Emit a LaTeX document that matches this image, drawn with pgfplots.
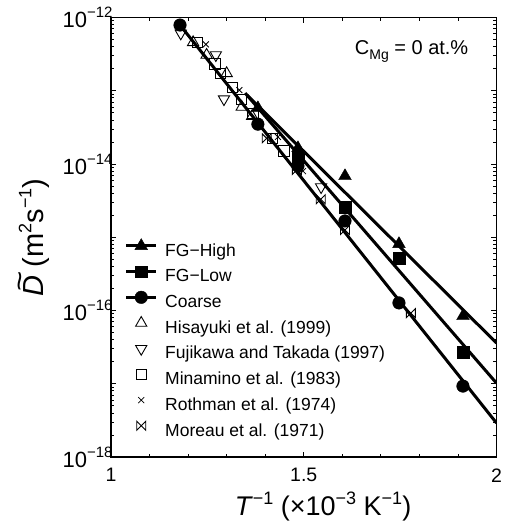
\documentclass[border=0pt]{standalone}
\usepackage{fontspec}
\setmainfont{Liberation Sans}
\usepackage{pgfplots}
\pgfplotsset{compat=1.18}
\usepackage{pgfplotstable}

\pgfdeclareplotmark{bowtie}{%
  \pgfpathmoveto{\pgfqpoint{-\pgfplotmarksize}{-\pgfplotmarksize}}%
  \pgfpathlineto{\pgfqpoint{-\pgfplotmarksize}{\pgfplotmarksize}}%
  \pgfpathlineto{\pgfqpoint{\pgfplotmarksize}{-\pgfplotmarksize}}%
  \pgfpathlineto{\pgfqpoint{\pgfplotmarksize}{\pgfplotmarksize}}%
  \pgfpathclose
  \pgfusepathqstroke
}
\newcommand\tp[1]{10\raisebox{0.45em}{\fontsize{15}{15}\selectfont −#1}}
\newcommand\spr[1]{\raisebox{0.42em}{\fontsize{18}{18}\selectfont #1}}
\newcommand\Dt{\makebox[0pt][l]{\hspace{0.16em}\raisebox{0.5em}{\scalebox{1.2}[1]{\textasciitilde}}}\textit{D}}

\pgfplotstableread{
x D
1.381 5.8e-14
1.485 1.65e-14
1.607 6.85e-15
1.747 8.1e-16
1.913 8.4e-17
}\fghigh
\pgfplotstableread{
x D
1.485 1.25e-14
1.607 2.59e-15
1.747 5.2e-16
1.913 2.7e-17
}\fglow
\pgfplotstableread{
x D
1.179 7.9e-13
1.381 3.5e-14
1.485 9.4e-15
1.607 1.67e-15
1.747 1.27e-16
1.913 9.3e-18
}\coarse
\pgfplotstableread{
x D
1.213 4.58e-13
1.248 3.08e-13
1.300 1.73e-13
1.339 6.0e-14
1.366 4.5e-14
}\hisayuki
\pgfplotstableread{
x D
1.181 6.08e-13
1.272 3.08e-13
1.293 7.7e-14
1.545 4.85e-15
}\fujikawa
\pgfplotstableread{
x D
1.224 4.58e-13
1.270 2.32e-13
1.284 1.73e-13
1.315 1.11e-13
1.339 7.55e-14
1.368 4.92e-14
1.419 2.24e-14
1.449 1.50e-14
}\minamino
\pgfplotstableread{
x D
1.246 4.3e-13
1.333 1.02e-13
1.433 2.34e-14
1.498 8.0e-15
}\rothman
\pgfplotstableread{
x D
1.404 2.24e-14
1.482 8.3e-15
1.544 3.3e-15
1.607 1.26e-15
1.778 9.2e-17
}\moreau

\begin{document}
\begin{tikzpicture}
\begin{axis}[
  scale only axis, width=385.5pt, height=439.5pt,
  ymode=log, xmin=1, xmax=2, ymin=1e-18, ymax=1e-12,
  xtick={1,1.5,2}, xticklabels={1,1.5,2},
  minor xtick={1.1,1.2,1.3,1.4,1.6,1.7,1.8,1.9},
  ytick={1e-18,1e-17,1e-16,1e-15,1e-14,1e-13,1e-12},
  yticklabels={\tp{18},,\tp{16},,\tp{14},,\tp{12}},
  minor ytick={2e-18,3e-18,4e-18,5e-18,6e-18,7e-18,8e-18,9e-18,
    2e-17,3e-17,4e-17,5e-17,6e-17,7e-17,8e-17,9e-17,
    2e-16,3e-16,4e-16,5e-16,6e-16,7e-16,8e-16,9e-16,
    2e-15,3e-15,4e-15,5e-15,6e-15,7e-15,8e-15,9e-15,
    2e-14,3e-14,4e-14,5e-14,6e-14,7e-14,8e-14,9e-14,
    2e-13,3e-13,4e-13,5e-13,6e-13,7e-13,8e-13,9e-13},
  tick align=inside,
  major tick length=5pt, minor tick length=3pt,
  every tick/.style={black, line width=0.8pt},
  axis line style={line width=1.2pt},
  xticklabel style={font=\fontsize{19.5}{24}\selectfont, yshift=-8pt},
  yticklabel style={font=\fontsize{22}{24}\selectfont, xshift=5pt},
  xlabel={\textit{T}\spr{−1} (×10\spr{−3} K\spr{−1})},
  xlabel style={font=\fontsize{27}{30}\selectfont, at={(axis description cs:0.55,-0.134)}, anchor=base},
  ylabel={\Dt\ (m\spr{2}s\spr{−1})},
  ylabel style={font=\fontsize{29}{31}\selectfont, at={(axis description cs:-0.175,0.5)}, anchor=base},
  legend image code/.code={\path[draw=none,fill=none] (0pt,0pt) rectangle (30pt,0pt);\begin{pgfinterruptboundingbox}\draw[mark repeat=2,mark phase=2,#1] plot coordinates {(0pt,6pt) (15pt,6pt) (30pt,6pt)};\end{pgfinterruptboundingbox}},
  legend cell align=left,
  legend style={at={(axis description cs:0.039,0.487)}, anchor=north west, draw=none, fill=none,
    inner sep=0pt, font=\fontsize{17.5}{20}\selectfont, row sep=8.2pt, column sep=9pt,
    nodes={inner sep=0pt, text height=13pt, text depth=4.5pt}},
]
% fitted lines
\addplot[forget plot, black, line width=3pt] coordinates {(1.353,8.75e-14) (2.0,3.6e-17)};
\addplot[forget plot, black, line width=3pt] coordinates {(1.348,9.3e-14) (2.0,1.02e-17)};
\addplot[forget plot, black, line width=3pt] coordinates {(1.179,7.9e-13) (2.0,2.91e-18)};
% literature data
\addplot[forget plot, only marks, mark=triangle, mark size=6.5pt, mark options={line width=0.9pt, fill=white}] table {\hisayuki};
\addplot[forget plot, only marks, mark=triangle, mark size=6.5pt, mark options={rotate=180, line width=0.9pt, fill=white}] table {\fujikawa};
\addplot[forget plot, only marks, mark=square, mark size=5.2pt, mark options={line width=0.9pt, fill=white}] table {\minamino};
\addplot[forget plot, only marks, mark=x, mark size=4.2pt, mark options={line width=0.8pt}] table {\rothman};
\addplot[forget plot, only marks, mark=bowtie, mark size=4.5pt, mark options={line width=0.9pt}] table {\moreau};
% present data
\addplot[forget plot, only marks, mark=triangle*, mark size=7.3pt, mark options={fill=black, line width=0.4pt}] table {\fghigh};
\addplot[forget plot, only marks, mark=square*, mark size=5.8pt, mark options={fill=black, line width=0.4pt}] table {\fglow};
\addplot[forget plot, only marks, mark=*, mark size=6.3pt, mark options={fill=black, line width=0.4pt}] table {\coarse};

\addlegendimage{black, line width=3pt, mark=triangle*, mark size=7.3pt, mark options={solid, fill=black, line width=0.4pt}}
\addlegendentry{FG−High}
\addlegendimage{black, line width=3pt, mark=square*, mark size=5.8pt, mark options={solid, fill=black, line width=0.4pt}}
\addlegendentry{FG−Low}
\addlegendimage{black, line width=3pt, mark=*, mark size=6.3pt, mark options={solid, fill=black, line width=0.4pt}}
\addlegendentry{Coarse}
\addlegendimage{only marks, mark=triangle, mark size=6.5pt, mark options={line width=0.9pt}}
\addlegendentry{Hisayuki et al. (1999)}
\addlegendimage{only marks, mark=triangle, mark size=6.5pt, mark options={rotate=180, line width=0.9pt}}
\addlegendentry{Fujikawa and Takada (1997)}
\addlegendimage{only marks, mark=square, mark size=5.2pt, mark options={line width=0.9pt}}
\addlegendentry{Minamino et al. (1983)}
\addlegendimage{only marks, mark=x, mark size=4.2pt, mark options={line width=0.8pt}}
\addlegendentry{Rothman et al. (1974)}
\addlegendimage{only marks, mark=bowtie, mark size=4.5pt, mark options={line width=0.9pt}}
\addlegendentry{Moreau et al. (1971)}

\node[anchor=base east, font=\fontsize{20}{22}\selectfont] at (axis description cs:0.936,0.915) {C\raisebox{-0.25em}{\fontsize{14}{14}\selectfont Mg} = 0 at.\%};
\end{axis}
\pgfresetboundingbox
\path ([shift={(-111pt,-66pt)}]current axis.south west) rectangle ([shift={(10.5pt,17.5pt)}]current axis.north east);
\end{tikzpicture}
\end{document}
